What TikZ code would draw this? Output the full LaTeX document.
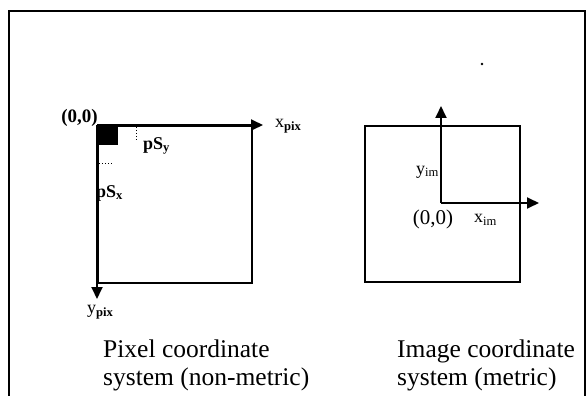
\documentclass[tikz,border=0pt]{standalone}
\usepackage{fontspec}
\setmainfont{Liberation Serif}
\usetikzlibrary{arrows.meta}
\begin{document}
\begin{tikzpicture}[x=1pt,y=-1pt,
  frameline/.style={line width=2pt},
  boxline/.style={line width=1.8pt},
  axisline/.style={line width=1.8pt,-{Triangle[width=11pt,length=12pt]}},
  dotline/.style={line width=1pt,dotted},
  small/.style={inner sep=0pt,font=\fontsize{18}{18}\selectfont},
  caption/.style={inner sep=0pt,anchor=base west,align=left,font=\fontsize{25.5}{28}\selectfont}]
\useasboundingbox (0,0) rectangle (587,396);
% outer frame (bottom cut off)
\draw[frameline] (9,400) -- (9,11) -- (585,11) -- (585,400);
\fill (482,64) circle (1.3pt);
% pixel coordinate system
\coordinate (po) at (97,125);
\coordinate (pxe) at (263,125);
\coordinate (pye) at (97,299);
\node[boxline,draw,minimum width=154pt,minimum height=157pt,inner sep=0pt,anchor=north west] (pbox) at (po) {};
\fill (97,125) rectangle (118,145);
\draw[axisline] (po) -- (pxe);
\draw[axisline] (po) -- (pye);
\draw[dotline] (136,127) -- (136,141);
\draw[dotline] (99,163) -- (113,163);
\node[small,font=\bfseries\fontsize{19}{19}\selectfont,anchor=east] (p00) at (98,118) {(0,0)};
\node[small,anchor=west] (psy) at (143,146) {\textbf{pS\textsubscript{y}}};
\node[small,anchor=west] (psx) at (96,193) {\textbf{pS\textsubscript{x}}};
\node[small,anchor=west] (xpix) at (275,126) {x\textsubscript{\textbf{pix}}};
\node[small,anchor=west] (ypix) at (87,312) {y\textsubscript{\textbf{pix}}};
% image coordinate system
\coordinate (io) at (441,203);
\coordinate (ixe) at (539,203);
\coordinate (iye) at (441,106);
\node[boxline,draw,minimum width=155pt,minimum height=156pt,inner sep=0pt,anchor=north west] (ibox) at (364,125) {};
\draw[axisline] (io) -- (ixe);
\draw[axisline] (io) -- (iye);
\node[small,anchor=east] (yim) at (439,172) {y\textsubscript{im}};
\node[small,font=\fontsize{21}{21}\selectfont] (i00) at (433,219) {(0,0)};
\node[small,anchor=west] (xim) at (474,220) {x\textsubscript{im}};
% captions
\node[caption] (cap1) at (103,385) {Pixel coordinate\\system (non-metric)};
\node[caption] (cap2) at (397,385) {Image coordinate\\system (metric)};
\end{tikzpicture}
\end{document}
